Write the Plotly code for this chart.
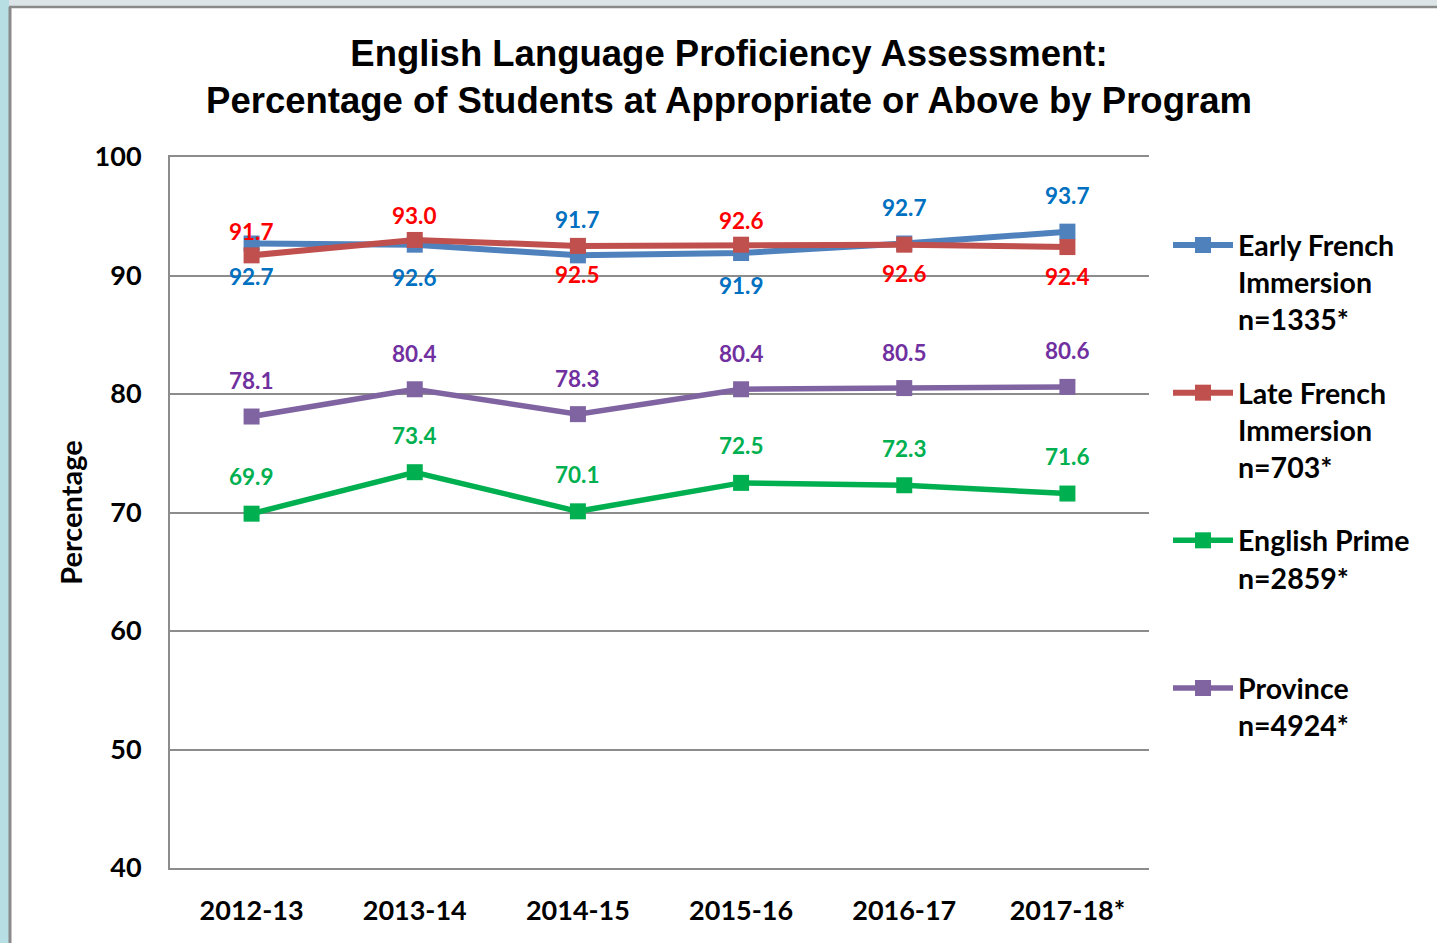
import plotly.graph_objects as go

years = ["2012-13", "2013-14", "2014-15", "2015-16", "2016-17", "2017-18*"]

early_french = [92.7, 92.6, 91.7, 91.9, 92.7, 93.7]
late_french = [91.7, 93.0, 92.5, 92.6, 92.6, 92.4]
english_prime = [69.9, 73.4, 70.1, 72.5, 72.3, 71.6]
province = [78.1, 80.4, 78.3, 80.4, 80.5, 80.6]

series_names = [
    "Early French<br>Immersion<br>n=1335*",
    "Late French<br>Immersion<br>n=703*",
    "English Prime<br>n=2859*<br> ",
    "Province<br>n=4924*<br> ",
]

# label placement (style, not data)
early_pos = ["below", "below", "above", "below", "above", "above"]
late_pos = ["above", "above", "below", "above", "below", "below"]
prime_pos = ["above"] * 6
prov_pos = ["above"] * 6

W, H = 1437, 943
L, R, T, B = 170, 1149, 157, 868


def xp(px):
    return (px - L) / (R - L)


def yp(py):
    return (B - py) / (B - T)


LABEL_FONT = "Lato, Liberation Sans, sans-serif"

series = [
    dict(name=series_names[0], y=early_french, line="#4F81BD", text="#0070C0", pos=early_pos,
         up=36, down=33, width=6),
    dict(name=series_names[1], y=late_french, line="#C0504D", text="#FF0000", pos=late_pos,
         up=24, down=29, width=6),
    dict(name=series_names[2], y=english_prime, line="#00B050", text="#00B050", pos=prime_pos,
         up=37, down=33, width=5.5),
    dict(name=series_names[3], y=province, line="#8064A2", text="#7030A0", pos=prov_pos,
         up=36, down=33, width=5.5),
]

fig = go.Figure()
annotations = []
for i, s in enumerate(series):
    fig.add_trace(go.Scatter(
        x=years, y=s["y"], name=s["name"], mode="lines+markers",
        line=dict(color=s["line"], width=s["width"]),
        marker=dict(symbol="square", size=16, color=s["line"]),
        legendgroup=f"g{i}",
    ))
    for xv, yv, pos in zip(years, s["y"], s["pos"]):
        annotations.append(dict(
            x=xv, y=yv, xref="x", yref="y", text=f"{yv:.1f}", showarrow=False,
            yshift=s["up"] if pos == "above" else -s["down"],
            font=dict(family=LABEL_FONT, size=22.5, color=s["text"], weight="bold"),
        ))

GRID = "#8C8C8C"

shapes = [
    # outer frame of the screenshot
    dict(type="rect", xref="paper", yref="paper", x0=xp(0), x1=xp(W), y0=yp(0), y1=yp(6),
         fillcolor="#DCE4E7", line=dict(width=0), layer="below"),
    dict(type="rect", xref="paper", yref="paper", x0=xp(0), x1=xp(9), y0=yp(0), y1=yp(H),
         fillcolor="#B7DEE2", line=dict(width=0), layer="below"),
    dict(type="line", xref="paper", yref="paper", x0=xp(9), x1=xp(W), y0=yp(7), y1=yp(7),
         line=dict(color="#8A8A8A", width=2.5), layer="below"),
    dict(type="line", xref="paper", yref="paper", x0=xp(10), x1=xp(10), y0=yp(7), y1=yp(H),
         line=dict(color="#8A8A8A", width=3), layer="below"),
]

fig.update_layout(
    width=W, height=H,
    margin=dict(l=L, r=W - R, t=T, b=H - B, autoexpand=False),
    paper_bgcolor="white", plot_bgcolor="white",
    title=dict(
        text="English Language Proficiency Assessment:<br>Percentage of Students at Appropriate or Above by Program",
        x=729 / W, xref="container", xanchor="center",
        y=1 - 66 / H, yref="container", yanchor="top",
        font=dict(family="Liberation Sans, Arial, sans-serif", size=36.5, color="black", weight="bold"),
    ),
    xaxis=dict(
        type="category", range=[-0.5, 5.5],
        showline=True, linecolor=GRID, linewidth=2, mirror=True,
        showgrid=False, ticks="", ticklabelstandoff=18,
        tickfont=dict(family=LABEL_FONT, size=27, color="black", weight="bold"),
        fixedrange=True,
    ),
    yaxis=dict(
        range=[40, 100], dtick=10, tick0=40,
        showline=True, linecolor=GRID, linewidth=2,
        showgrid=True, gridcolor=GRID, gridwidth=2,
        zeroline=False, ticks="", ticklabelstandoff=21,
        tickfont=dict(family=LABEL_FONT, size=27, color="black", weight="bold"),
        title=dict(text="Percentage", standoff=3,
                   font=dict(family=LABEL_FONT, size=29, color="black", weight="bold")),
        fixedrange=True,
    ),
    legend=dict(
        x=xp(1168), xanchor="left", y=yp(220), yanchor="top",
        font=dict(family=LABEL_FONT, size=28.5, color="black", weight="bold"),
        itemwidth=60, valign="top", tracegroupgap=33.5,
        traceorder="grouped", bgcolor="rgba(0,0,0,0)",
    ),
    annotations=annotations,
    shapes=shapes,
    showlegend=True,
)

fig.write_html(
    "out.html",
    config={"displayModeBar": False},
    post_script="document.body.style.margin='0';document.body.style.overflow='hidden';",
)
